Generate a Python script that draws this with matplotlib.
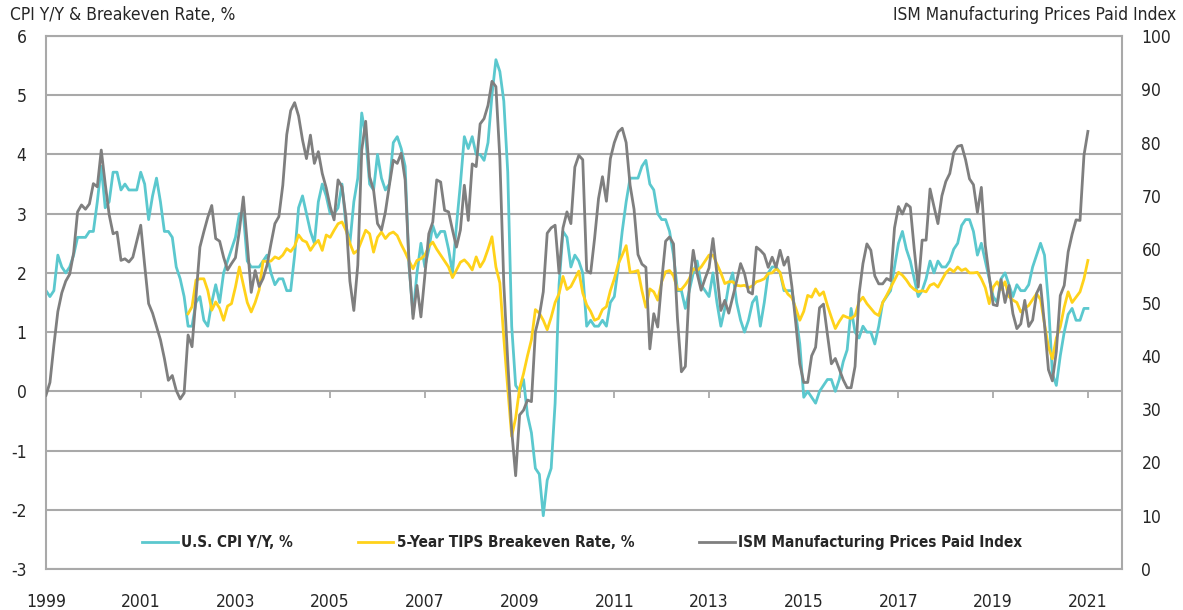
import numpy as np
import matplotlib
matplotlib.use("Agg")
import matplotlib.pyplot as plt

# monthly values, Jan 1999 .. Jan 2021
cpi_yoy = [
    1.7, 1.6, 1.7, 2.3, 2.1, 2.0, 2.1, 2.3, 2.6, 2.6, 2.6, 2.7,
    2.7, 3.2, 3.8, 3.1, 3.2, 3.7, 3.7, 3.4, 3.5, 3.4, 3.4, 3.4,
    3.7, 3.5, 2.9, 3.3, 3.6, 3.2, 2.7, 2.7, 2.6, 2.1, 1.9, 1.6,
    1.1, 1.1, 1.5, 1.6, 1.2, 1.1, 1.5, 1.8, 1.5, 2.0, 2.2, 2.4,
    2.6, 3.0, 3.0, 2.2, 2.1, 2.1, 2.1, 2.2, 2.3, 2.0, 1.8, 1.9,
    1.9, 1.7, 1.7, 2.3, 3.1, 3.3, 3.0, 2.7, 2.5, 3.2, 3.5, 3.3,
    3.0, 3.0, 3.1, 3.5, 2.8, 2.5, 3.2, 3.6, 4.7, 4.3, 3.5, 3.4,
    4.0, 3.6, 3.4, 3.5, 4.2, 4.3, 4.1, 3.8, 2.1, 1.3, 2.0, 2.5,
    2.1, 2.4, 2.8, 2.6, 2.7, 2.7, 2.4, 2.0, 2.8, 3.5, 4.3, 4.1,
    4.3, 4.0, 4.0, 3.9, 4.2, 5.0, 5.6, 5.4, 4.9, 3.7, 1.1, 0.1,
    0.0, 0.2, -0.4, -0.7, -1.3, -1.4, -2.1, -1.5, -1.3, -0.2, 1.8, 2.7,
    2.6, 2.1, 2.3, 2.2, 2.0, 1.1, 1.2, 1.1, 1.1, 1.2, 1.1, 1.5,
    1.6, 2.1, 2.7, 3.2, 3.6, 3.6, 3.6, 3.8, 3.9, 3.5, 3.4, 3.0,
    2.9, 2.9, 2.7, 2.3, 1.7, 1.7, 1.4, 1.7, 2.0, 2.2, 1.8, 1.7,
    1.6, 2.0, 1.5, 1.1, 1.4, 1.8, 2.0, 1.5, 1.2, 1.0, 1.2, 1.5,
    1.6, 1.1, 1.5, 2.0, 2.1, 2.1, 2.0, 1.7, 1.7, 1.7, 1.3, 0.8,
    -0.1, 0.0, -0.1, -0.2, 0.0, 0.1, 0.2, 0.2, 0.0, 0.2, 0.5, 0.7,
    1.4, 1.0, 0.9, 1.1, 1.0, 1.0, 0.8, 1.1, 1.5, 1.6, 1.7, 2.1,
    2.5, 2.7, 2.4, 2.2, 1.9, 1.6, 1.7, 1.9, 2.2, 2.0, 2.2, 2.1,
    2.1, 2.2, 2.4, 2.5, 2.8, 2.9, 2.9, 2.7, 2.3, 2.5, 2.2, 1.9,
    1.6, 1.5, 1.9, 2.0, 1.8, 1.6, 1.8, 1.7, 1.7, 1.8, 2.1, 2.3,
    2.5, 2.3, 1.5, 0.3, 0.1, 0.6, 1.0, 1.3, 1.4, 1.2, 1.2, 1.4,
    1.4,
]

ism_prices = [
    32.6, 35.0, 42.0, 48.3, 51.8, 54.0, 55.3, 59.3, 67.0, 68.3, 67.5, 68.5,
    72.3, 71.7, 78.6, 72.3, 66.5, 62.9, 63.2, 57.9, 58.2, 57.6, 58.5, 61.5,
    64.5, 57.0, 49.8, 48.0, 45.5, 43.0, 39.5, 35.4, 36.3, 33.5, 31.9, 33.0,
    43.9, 41.7, 51.0, 60.4, 63.3, 66.0, 68.2, 62.0, 61.5, 58.5, 56.1, 57.3,
    58.4, 63.5, 69.8, 61.0, 51.9, 56.0, 53.0, 54.5, 57.0, 61.0, 64.8, 66.1,
    72.0, 81.5, 86.0, 87.5, 85.0, 80.5, 77.0, 81.4, 76.1, 78.3, 74.2, 71.5,
    68.0, 65.5, 73.0, 71.7, 66.0, 54.0, 48.5, 57.0, 78.6, 84.0, 73.6, 71.1,
    64.8, 63.6, 67.0, 72.0, 76.7, 76.1, 78.0, 73.0, 57.3, 47.0, 53.2, 47.3,
    55.0, 62.9, 65.1, 73.0, 72.6, 67.3, 67.0, 63.6, 60.4, 63.6, 72.0, 65.4,
    76.0, 75.5, 83.5, 84.5, 87.0, 91.5, 90.5, 77.0, 53.5, 39.0, 26.0, 17.5,
    28.9, 29.8, 31.7, 31.4, 44.5, 47.5, 52.0, 63.0, 64.0, 64.5, 55.5, 64.0,
    67.0, 64.8, 75.4, 77.6, 76.8, 56.0, 55.5, 62.0, 69.5, 73.6, 69.0, 77.0,
    80.0, 82.0, 82.7, 80.0, 72.0, 67.5, 59.0, 57.2, 56.6, 41.3, 47.9, 45.4,
    54.0, 61.5, 62.3, 61.0, 47.0, 37.0, 38.0, 52.9, 59.8, 55.4, 52.3, 54.5,
    56.5, 62.0, 55.4, 48.5, 50.4, 48.0, 51.0, 54.0, 57.3, 55.4, 52.0, 51.6,
    60.4, 59.8, 59.0, 56.6, 58.5, 56.6, 59.8, 57.0, 58.5, 53.0, 46.0, 38.5,
    35.0, 35.0, 40.0, 41.6, 49.0, 49.7, 44.0, 38.5, 39.5, 37.5, 35.5, 34.0,
    34.0, 38.0, 51.5, 57.3, 61.0, 59.8, 55.0, 53.5, 53.5, 54.5, 54.1, 64.0,
    68.0, 66.6, 68.5, 67.9, 60.0, 52.9, 61.7, 61.7, 71.3, 68.0, 64.8, 70.0,
    72.7, 74.2, 78.1, 79.3, 79.5, 76.8, 73.2, 72.1, 66.9, 71.6, 60.7, 54.9,
    49.6, 49.4, 54.3, 50.0, 53.2, 47.9, 45.1, 46.0, 50.4, 45.5, 46.7, 51.7,
    53.3, 45.9, 37.4, 35.3, 40.8, 51.3, 53.2, 59.5, 62.8, 65.5, 65.4, 77.6,
    82.1,
]

# monthly values, Jan 2002 .. Jan 2021
breakeven_5y = [
    1.31, 1.43, 1.88, 1.90, 1.90, 1.70, 1.37, 1.51, 1.40, 1.20, 1.44, 1.48,
    1.76, 2.10, 1.80, 1.50, 1.34, 1.50, 1.71, 2.20, 2.19, 2.20, 2.27, 2.24,
    2.30, 2.41, 2.36, 2.45, 2.64, 2.55, 2.52, 2.38, 2.48, 2.55, 2.38, 2.64,
    2.60, 2.72, 2.83, 2.86, 2.72, 2.50, 2.33, 2.38, 2.55, 2.72, 2.66, 2.35,
    2.60, 2.69, 2.58, 2.66, 2.69, 2.63, 2.48, 2.35, 2.20, 2.07, 2.21, 2.24,
    2.30, 2.45, 2.52, 2.40, 2.30, 2.20, 2.10, 1.92, 2.05, 2.18, 2.22, 2.15,
    2.05, 2.27, 2.10, 2.21, 2.40, 2.61, 2.10, 1.83, 0.90, 0.05, -0.76, -0.45,
    0.05, 0.30, 0.60, 0.87, 1.38, 1.32, 1.20, 1.04, 1.25, 1.50, 1.65, 1.94,
    1.72, 1.77, 1.90, 2.03, 1.66, 1.46, 1.35, 1.20, 1.23, 1.38, 1.43, 1.70,
    1.90, 2.15, 2.30, 2.46, 2.01, 2.02, 2.04, 1.70, 1.42, 1.73, 1.68, 1.54,
    1.85, 2.02, 2.04, 1.95, 1.72, 1.72, 1.80, 1.90, 2.07, 2.04, 2.10, 2.20,
    2.30, 2.30, 2.15, 2.00, 1.82, 1.85, 1.85, 1.79, 1.78, 1.79, 1.75, 1.78,
    1.85, 1.87, 1.90, 1.99, 2.00, 2.07, 2.01, 1.75, 1.64, 1.58, 1.40, 1.20,
    1.35, 1.62, 1.59, 1.73, 1.62, 1.68, 1.45, 1.25, 1.06, 1.18, 1.28, 1.25,
    1.23, 1.28, 1.51, 1.59, 1.48, 1.40, 1.32, 1.28, 1.50, 1.62, 1.75, 1.88,
    2.01, 1.96, 1.88, 1.78, 1.72, 1.68, 1.70, 1.68, 1.79, 1.82, 1.76, 1.88,
    2.00, 2.07, 2.02, 2.10, 2.04, 2.07, 2.00, 2.00, 2.01, 1.90, 1.75, 1.48,
    1.76, 1.85, 1.72, 1.85, 1.60, 1.54, 1.50, 1.34, 1.40, 1.45, 1.55, 1.65,
    1.55, 1.14, 0.75, 0.55, 0.90, 1.09, 1.42, 1.68, 1.50, 1.59, 1.68, 1.90,
    2.21,
]

tick_years = [1999, 2001, 2003, 2005, 2007, 2009, 2011, 2013, 2015, 2017, 2019, 2021]
left_ticks = [-3, -2, -1, 0, 1, 2, 3, 4, 5, 6]
right_ticks = [0, 10, 20, 30, 40, 50, 60, 70, 80, 90, 100]

x_main = 1999 + np.arange(len(cpi_yoy)) / 12
x_be = 2002 + np.arange(len(breakeven_5y)) / 12

FONT = ["DejaVu Sans", "Liberation Sans"]
plt.rcParams["font.family"] = FONT
plt.rcParams["font.stretch"] = "condensed"
plt.rcParams["axes.unicode_minus"] = False
TXT = "#262626"
GRID = "#a9a9a9"

fig = plt.figure(figsize=(11.83, 6.10), dpi=100)
ax = fig.add_axes([46 / 1183, 1 - 569 / 610, 1076 / 1183, 533 / 610])

l_cpi, = ax.plot(x_main, cpi_yoy, color="#5bc8ce", lw=2.0, label="U.S. CPI Y/Y, %")
l_be, = ax.plot(x_be, breakeven_5y, color="#ffd21a", lw=2.0,
                label="5-Year TIPS Breakeven Rate, %")

ax.set_xlim(1999.0, 2021.72)
ax.set_ylim(-3, 6)
ax.set_yticks(left_ticks)
ax.yaxis.grid(True, color=GRID, lw=1.5)
ax.set_axisbelow(True)
ax.set_xticks(tick_years)
ax.set_xticklabels([str(y) for y in tick_years])
ax.tick_params(axis="x", length=0, pad=17, labelsize=12.5, labelcolor=TXT)
ax.tick_params(axis="y", length=0, pad=14, labelsize=12.5, labelcolor=TXT)
for s in ax.spines.values():
    s.set_color(GRID)
    s.set_linewidth(1.5)

# category axis crosses at zero: tick marks hang from the 0 line
zero_axis = ax.secondary_xaxis(1 / 3)
zero_axis.set_xticks(tick_years)
zero_axis.set_xticklabels([])
zero_axis.tick_params(axis="x", direction="out", length=5, width=1.3, color=GRID)
zero_axis.spines["bottom"].set_visible(False)

ax2 = ax.twinx()
l_ism, = ax2.plot(x_main, ism_prices, color="#7f7f7f", lw=2.0,
                  label="ISM Manufacturing Prices Paid Index")
ax2.set_ylim(0, 100)
ax2.set_yticks(right_ticks)
ax2.tick_params(axis="y", length=0, pad=14, labelsize=12.5, labelcolor=TXT)
for s in ax2.spines.values():
    s.set_visible(False)

leg = ax2.legend(handles=[l_cpi, l_be, l_ism], loc="center", bbox_to_anchor=(0.4986, 0.05),
                 ncol=3, frameon=False, handlelength=2.3, handletextpad=0.25,
                 columnspacing=4.25,
                 prop={"family": FONT, "weight": "bold", "size": 11, "stretch": "condensed"})
for t in leg.get_texts():
    t.set_color(TXT)

fig.text(10 / 1183, 1 - 15 / 610, "CPI Y/Y & Breakeven Rate, %", ha="left", va="center",
         fontsize=12.5, color=TXT)
fig.text(1176 / 1183, 1 - 15 / 610, "ISM Manufacturing Prices Paid Index", ha="right",
         va="center", fontsize=12.5, color=TXT)

fig.savefig("out.png", dpi=100)
